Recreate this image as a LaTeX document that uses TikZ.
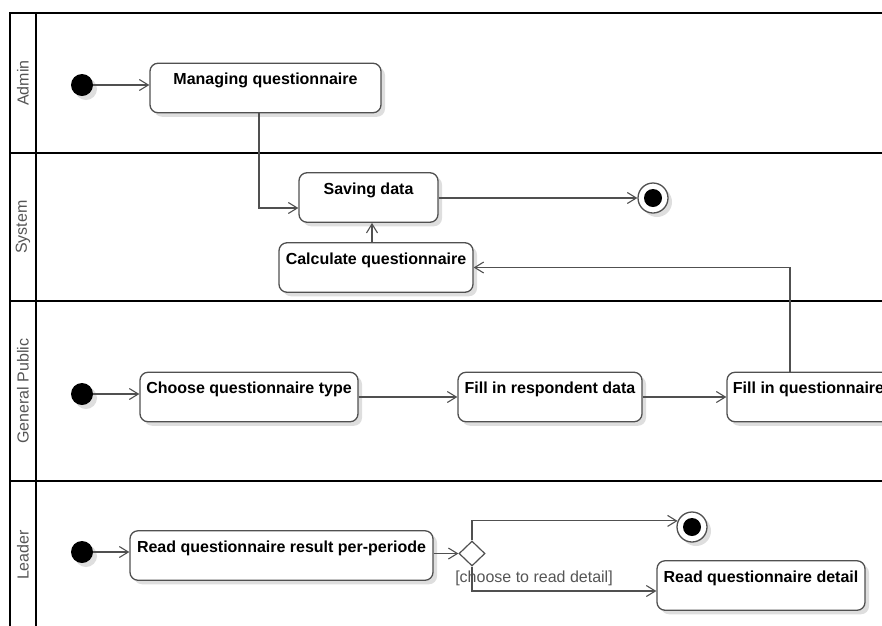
\documentclass[tikz,border=0pt]{standalone}
\usepackage{fontspec}
\setmainfont{Liberation Sans}
\usetikzlibrary{arrows.meta,shapes.geometric,shadows}
\definecolor{lineclr}{HTML}{505050}
\definecolor{labelclr}{HTML}{555555}
\begin{document}
\begin{tikzpicture}[x=1pt,y=-1pt,
  lane/.style={line width=2.4pt,black},
  lanelabel/.style={rotate=90,text=labelclr,font=\fontsize{16}{19}\selectfont},
  softshadow/.style={drop shadow={shadow xshift=4pt,shadow yshift=-4pt,opacity=0.13,fill=black}},
  act/.style={draw=lineclr,line width=1.3pt,fill=white,rounded corners=8pt,
    inner sep=0pt,text height=21.5pt,text depth=28pt,
    font=\fontsize{16}{19}\selectfont\bfseries,softshadow},
  startdot/.style={circle,fill=black,minimum size=22pt,inner sep=0pt,softshadow},
  enddot/.style={circle,draw=lineclr,line width=1.3pt,fill=white,minimum size=30pt,inner sep=0pt,softshadow,
    path picture={\fill[black] (path picture bounding box.center) circle[radius=9pt];}},
  decision/.style={diamond,draw=lineclr,line width=1.2pt,fill=white,minimum width=26pt,minimum height=25pt,inner sep=0pt},
  flow/.style={draw=lineclr,line width=1.1pt,-{Straight Barb[length=9pt,width=11pt,line width=1.1pt]}},
  guard/.style={text=labelclr,font=\fontsize{16}{19}\selectfont}]
\useasboundingbox (0,0) rectangle (882,625);

% swimlane frame
\draw[lane] (10,13) -- (890,13);
\draw[lane] (10,153) -- (890,153);
\draw[lane] (10,301) -- (890,301);
\draw[lane] (10,481) -- (890,481);
\draw[lane] (10,12) -- (10,640);
\draw[lane] (36,13) -- (36,640);

\node[lanelabel] (lAdmin) at (23,83) {Admin};
\node[lanelabel] (lSystem) at (23,227) {System};
\node[lanelabel] (lPublic) at (23,391) {General Public};
\node[lanelabel] (lLeader) at (23,555) {Leader};

% Admin
\node[startdot] (s1) at (82,85) {};
\node[act,minimum width=231pt] (manage) at (265.5,88) {Managing questionnaire};

% System
\node[act,minimum width=139pt] (save) at (368.5,197.5) {Saving data};
\node[act,minimum width=194pt] (calc) at (376,267.5) {Calculate questionnaire};
\node[enddot] (e1) at (653,198) {};

% General Public
\node[startdot] (s2) at (82,394) {};
\node[act,minimum width=218pt] (choose) at (249,397) {Choose questionnaire type};
\node[act,minimum width=184pt] (respondent) at (550,397) {Fill in respondent data};
\node[act,minimum width=163pt] (fillq) at (808.5,397) {Fill in questionnaire};

% Leader
\node[startdot] (s3) at (82,552) {};
\node[act,minimum width=303pt] (result) at (281.5,555.5) {Read questionnaire result per-periode};
\node[decision] (dec) at (472,553.5) {};
\node[enddot] (e2) at (692,527) {};
\node[act,minimum width=208pt] (detail) at (761,585.5) {Read questionnaire detail};
\node[guard] (g1) at (534,578) {[choose to read detail]};

% flows
\draw[flow] (s1) -- (s1 -| manage.west);
\draw[flow] ([xshift=-6.5pt]manage.south) |- ([yshift=-10.5pt]save.west);
\draw[flow] ([xshift=-4pt]calc.north) -- ([xshift=-4pt]calc.north |- save.south);
\draw[flow] (save.east |- e1) -- (e1);
\draw[flow] ([xshift=-18.5pt]fillq.north) |- (calc.east);

\draw[flow] (s2) -- (s2 -| choose.west);
\draw[flow] (choose) -- (respondent);
\draw[flow] (respondent) -- (fillq);

\draw[flow] (s3) -- (s3 -| result.west);
\draw[flow] (result.east |- dec) -- (dec.west);
\draw[flow] (dec.north) |- (e2.157);
\draw[flow] (dec.south) |- ([yshift=-5.5pt]detail.west);
\end{tikzpicture}
\end{document}
